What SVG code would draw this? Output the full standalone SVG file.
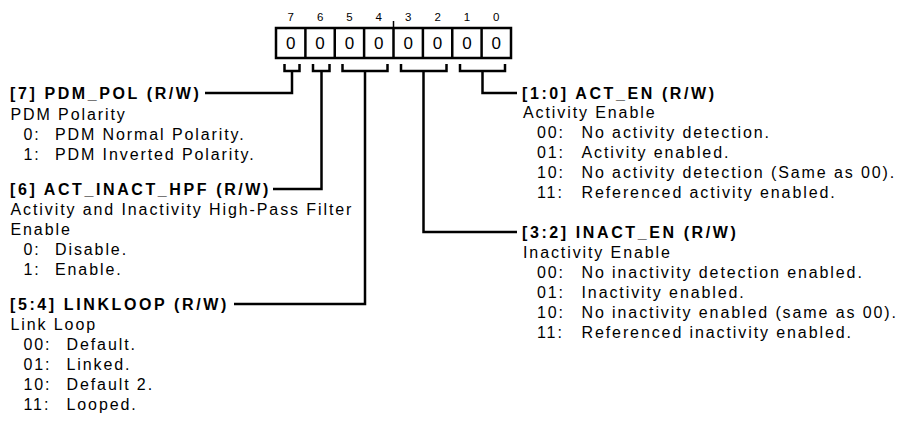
<svg xmlns="http://www.w3.org/2000/svg" width="902" height="425" viewBox="0 0 902 425">
<style>
text{font-family:"Liberation Sans",Arial,sans-serif;fill:#000}
.t{font-size:16px;font-weight:bold;letter-spacing:2.6px}
.d{font-size:16px;letter-spacing:1.9px}
.bn{font-size:11.5px;text-anchor:middle}
.bv{font-size:17px;text-anchor:middle}
.ln{fill:none;stroke:#000;stroke-width:2.5;stroke-linejoin:miter;stroke-linecap:butt}
</style>
<rect width="902" height="425" fill="#fff"/>
<g id="register">
  <rect x="276" y="28" width="235" height="30" class="ln"/>
  <path class="ln" d="M305.4 28V58M334.75 28V58M364.1 28V58M393.5 28V58M422.9 28V58M452.25 28V58M481.6 28V58"/>
  <path d="M393.5 21V28" stroke="#000" stroke-width="1.5"/>
  <text class="bn" x="290.7" y="21">7</text>
  <text class="bn" x="320.1" y="21">6</text>
  <text class="bn" x="349.4" y="21">5</text>
  <text class="bn" x="378.8" y="21">4</text>
  <text class="bn" x="408.2" y="21">3</text>
  <text class="bn" x="437.6" y="21">2</text>
  <text class="bn" x="466.9" y="21">1</text>
  <text class="bn" x="496.3" y="21">0</text>
  <text class="bv" x="290.7" y="49">0</text>
  <text class="bv" x="320.1" y="49">0</text>
  <text class="bv" x="349.4" y="49">0</text>
  <text class="bv" x="378.8" y="49">0</text>
  <text class="bv" x="408.2" y="49">0</text>
  <text class="bv" x="437.6" y="49">0</text>
  <text class="bv" x="466.9" y="49">0</text>
  <text class="bv" x="496.3" y="49">0</text>
</g>
<g id="connectors">
  <path class="ln" d="M284.5 64V71H299.5V64M292 71V93H205"/>
  <path class="ln" d="M313 64V71H329.5V64M321.5 71V189H273"/>
  <path class="ln" d="M342.5 64V71H387.5V64M365 71V304H234"/>
  <path class="ln" d="M401 64V71H446.5V64M423.5 71V232H517"/>
  <path class="ln" d="M460 64V71H505V64M482.5 71V93H517"/>
</g>
<g id="pdm_pol">
  <text class="t" x="10" y="99">[7] PDM_POL (R/W)</text>
  <text class="d" x="10.5" y="120">PDM Polarity</text>
  <text class="d" x="23.5" y="140">0:</text><text class="d" x="55" y="140">PDM Normal Polarity.</text>
  <text class="d" x="23.5" y="160">1:</text><text class="d" x="55" y="160">PDM Inverted Polarity.</text>
</g>
<g id="act_inact_hpf">
  <text class="t" x="10" y="195">[6] ACT_INACT_HPF (R/W)</text>
  <text class="d" x="10.5" y="215">Activity and Inactivity High-Pass Filter</text>
  <text class="d" x="10.5" y="235">Enable</text>
  <text class="d" x="23.5" y="255">0:</text><text class="d" x="55" y="255">Disable.</text>
  <text class="d" x="23.5" y="275">1:</text><text class="d" x="55" y="275">Enable.</text>
</g>
<g id="linkloop">
  <text class="t" x="10" y="310">[5:4] LINKLOOP (R/W)</text>
  <text class="d" x="10.5" y="330">Link Loop</text>
  <text class="d" x="23.5" y="350">00:</text><text class="d" x="66.5" y="350">Default.</text>
  <text class="d" x="23.5" y="370">01:</text><text class="d" x="66.5" y="370">Linked.</text>
  <text class="d" x="23.5" y="390">10:</text><text class="d" x="66.5" y="390">Default 2.</text>
  <text class="d" x="23.5" y="410">11:</text><text class="d" x="66.5" y="410">Looped.</text>
</g>
<g id="act_en">
  <text class="t" x="522" y="99">[1:0] ACT_EN (R/W)</text>
  <text class="d" x="523" y="118">Activity Enable</text>
  <text class="d" x="537" y="138">00:</text><text class="d" x="581.5" y="138">No activity detection.</text>
  <text class="d" x="537" y="158">01:</text><text class="d" x="581.5" y="158">Activity enabled.</text>
  <text class="d" x="537" y="178">10:</text><text class="d" x="581.5" y="178">No activity detection (Same as 00).</text>
  <text class="d" x="537" y="198">11:</text><text class="d" x="581.5" y="198">Referenced activity enabled.</text>
</g>
<g id="inact_en">
  <text class="t" x="522" y="238">[3:2] INACT_EN (R/W)</text>
  <text class="d" x="523" y="258">Inactivity Enable</text>
  <text class="d" x="537" y="278">00:</text><text class="d" x="581.5" y="278">No inactivity detection enabled.</text>
  <text class="d" x="537" y="298">01:</text><text class="d" x="581.5" y="298">Inactivity enabled.</text>
  <text class="d" x="537" y="318">10:</text><text class="d" x="581.5" y="318">No inactivity enabled (same as 00).</text>
  <text class="d" x="537" y="338">11:</text><text class="d" x="581.5" y="338">Referenced inactivity enabled.</text>
</g>
</svg>
